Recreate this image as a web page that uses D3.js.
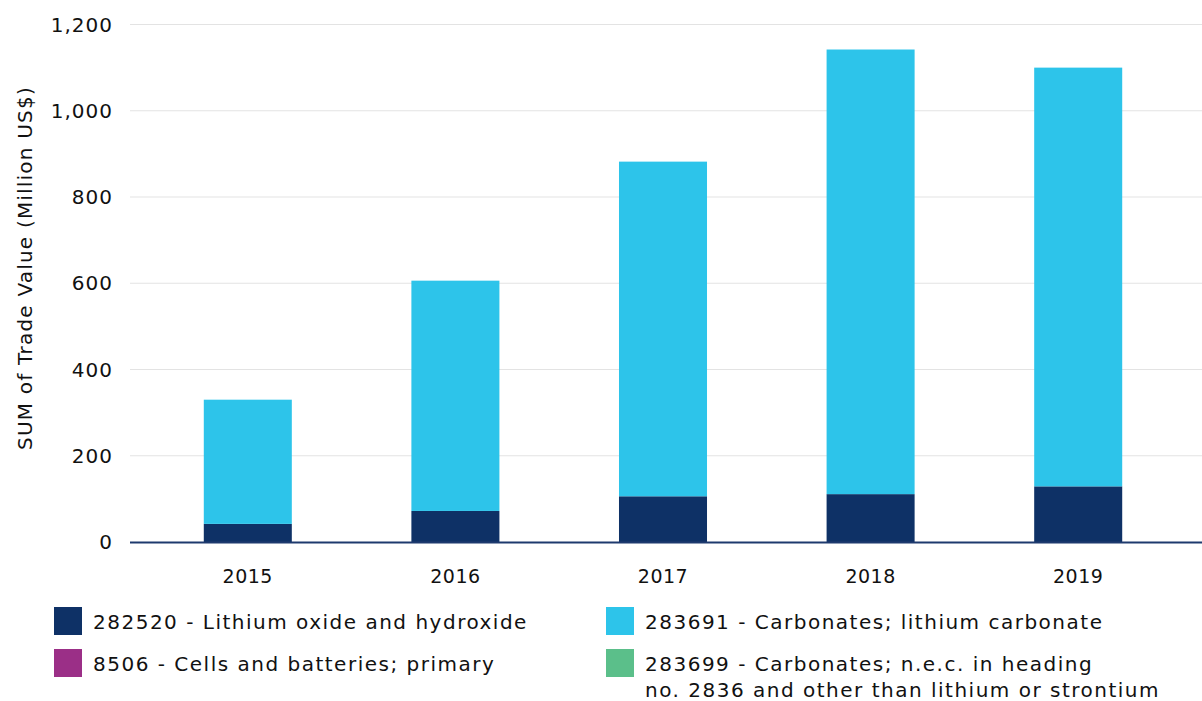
<!DOCTYPE html>
<html>
<head>
<meta charset="utf-8">
<script src="https://cdn.jsdelivr.net/npm/d3@7"></script>
<style>
  body { margin: 0; background: #fff; }
  text { font-family: "DejaVu Sans", sans-serif; fill: #111; }
</style>
</head>
<body>
<div id="chart"></div>
<script>
// data
const years = ["2015", "2016", "2017", "2018", "2019"];
const hydroxide = [42, 72, 106, 111, 129];        // 282520
const carbonate = [288, 534, 776, 1031, 971];     // 283691
const batteries = [0, 0, 0, 0, 0];                // 8506
const otherCarb = [0, 0, 0, 0, 0];                // 283699
const yTicks = [0, 200, 400, 600, 800, 1000, 1200];

const seriesNames = [
  "282520 - Lithium oxide and hydroxide",
  "283691 - Carbonates; lithium carbonate",
  "8506 - Cells and batteries; primary",
  "283699 - Carbonates; n.e.c. in heading"
];
const seriesColors = ["#0e3166", "#2dc4ea", "#9b2f87", "#5bbf8a"];

const W = 1202, H = 701;
const svg = d3.select("#chart").append("svg")
  .attr("width", W).attr("height", H);

// scales
const x = d3.scaleBand()
  .domain(years)
  .range([144, 1182])
  .paddingInner(0.576)
  .paddingOuter(0.288);

const y = d3.scaleLinear()
  .domain([0, 1200])
  .range([542, 24.5]);

// grid
svg.append("g")
  .selectAll("line")
  .data(yTicks.slice(1))
  .join("line")
  .attr("x1", 130).attr("x2", W)
  .attr("y1", d => y(d)).attr("y2", d => y(d))
  .attr("stroke", "#e3e3e3")
  .attr("stroke-width", 1);

// y tick labels
svg.append("g")
  .selectAll("text")
  .data(yTicks)
  .join("text")
  .attr("x", 113)
  .attr("y", d => y(d))
  .attr("dy", "0.35em")
  .attr("text-anchor", "end")
  .style("font-size", "20px")
  .style("letter-spacing", "1px")
  .text(d => d3.format(",")(d));

// stack
const rows = years.map((yr, i) => ({
  year: yr, s0: hydroxide[i], s1: carbonate[i], s2: batteries[i], s3: otherCarb[i]
}));
const stack = d3.stack().keys(["s0", "s1", "s2", "s3"]);
const layers = stack(rows);

svg.append("g")
  .selectAll("g")
  .data(layers)
  .join("g")
  .attr("fill", (d, i) => seriesColors[i])
  .selectAll("rect")
  .data(d => d)
  .join("rect")
  .attr("x", d => x(d.data.year))
  .attr("width", x.bandwidth())
  .attr("y", d => y(d[1]))
  .attr("height", d => y(d[0]) - y(d[1]));

// baseline
svg.append("line")
  .attr("x1", 130).attr("x2", W)
  .attr("y1", y(0) + 0.5).attr("y2", y(0) + 0.5)
  .attr("stroke", "#1e3a6e")
  .attr("stroke-width", 2);

// x labels
svg.append("g")
  .selectAll("text")
  .data(years)
  .join("text")
  .attr("x", d => x(d) + x.bandwidth() / 2)
  .attr("y", 583)
  .attr("text-anchor", "middle")
  .style("font-size", "19px")
  .style("letter-spacing", "0.5px")
  .text(d => d);

// y axis title
svg.append("text")
  .attr("transform", `translate(32,${268}) rotate(-90)`)
  .attr("text-anchor", "middle")
  .style("font-size", "20px")
  .style("letter-spacing", "1.2px")
  .text("SUM of Trade Value (Million US$)");

// legend
const legendPos = [
  { x: 54, y: 607 },
  { x: 606, y: 607 },
  { x: 54, y: 649 },
  { x: 606, y: 649 }
];
const legend = svg.append("g")
  .selectAll("g")
  .data(seriesNames)
  .join("g")
  .attr("transform", (d, i) => `translate(${legendPos[i].x},${legendPos[i].y})`);

legend.append("rect")
  .attr("width", 28).attr("height", 28)
  .attr("fill", (d, i) => seriesColors[i]);

legend.append("text")
  .attr("x", 39)
  .attr("y", 22)
  .style("font-size", "20px")
  .style("letter-spacing", "1.5px")
  .text(d => d);

legend.filter((d, i) => i === 3)
  .append("text")
  .attr("x", 39)
  .attr("y", 48)
  .style("font-size", "20px")
  .style("letter-spacing", "1.5px")
  .text("no. 2836 and other than lithium or strontium");
</script>
</body>
</html>
